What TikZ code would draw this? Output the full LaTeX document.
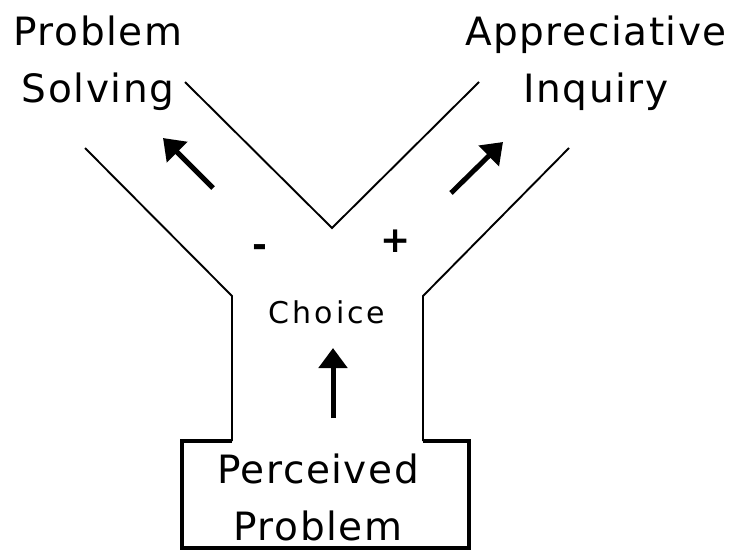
\documentclass[tikz,border=0pt]{standalone}
\usepackage{fontspec}
\setmainfont{DejaVu Sans}
\newfontfamily\lblfont[LetterSpace=4]{DejaVu Sans}
\newfontfamily\choicefont[LetterSpace=10]{DejaVu Sans}
\usetikzlibrary{arrows.meta}

\begin{document}
\begin{tikzpicture}[x=1pt, y=-1pt,
  pipe/.style={line width=1.9pt},
  boxline/.style={line width=3.6pt},
  flow/.style={line width=5pt, -{Triangle[length=20pt, width=28pt]}},
  lbl/.style={font=\lblfont\fontsize{39}{57}\selectfont, align=center, inner sep=0pt},
  sign/.style={font=\bfseries\fontsize{36}{40}\selectfont, inner sep=0pt, anchor=base}]
  \useasboundingbox (0,0) rectangle (733,552);

  % channel walls
  \draw[pipe] (85,148) -- (232,296) -- (232,441);
  \draw[pipe] (569,148) -- (423,296) -- (423,441);
  \draw[pipe] (185,82) -- (332,228) -- (479,82);

  % problem box
  \draw[boxline] (232,441) -- (182,441) -- (182,548) -- (469,548) -- (469,441) -- (423,441);

  % labels (base = last line)
  \node[lbl, anchor=base] (solving) at (98,102) {Problem\\Solving};
  \node[lbl, anchor=base] (inquiry) at (596,102) {Appreciative\\Inquiry};
  \node[font=\choicefont\fontsize{30}{36}\selectfont, inner sep=0pt, anchor=base] (choice) at (327,323) {Choice};
  \node[lbl, anchor=base] (perceived) at (318,540) {Perceived\\Problem};
  \node[sign] (minus) at (260,257) {-};
  \node[sign] (plus) at (396,252) {+};

  % flow arrows
  \draw[flow] (213,188) -- (163,138);
  \draw[flow] (451,193) -- (503,142);
  \draw[flow] (333,418) -- (333,348);
\end{tikzpicture}
\end{document}
